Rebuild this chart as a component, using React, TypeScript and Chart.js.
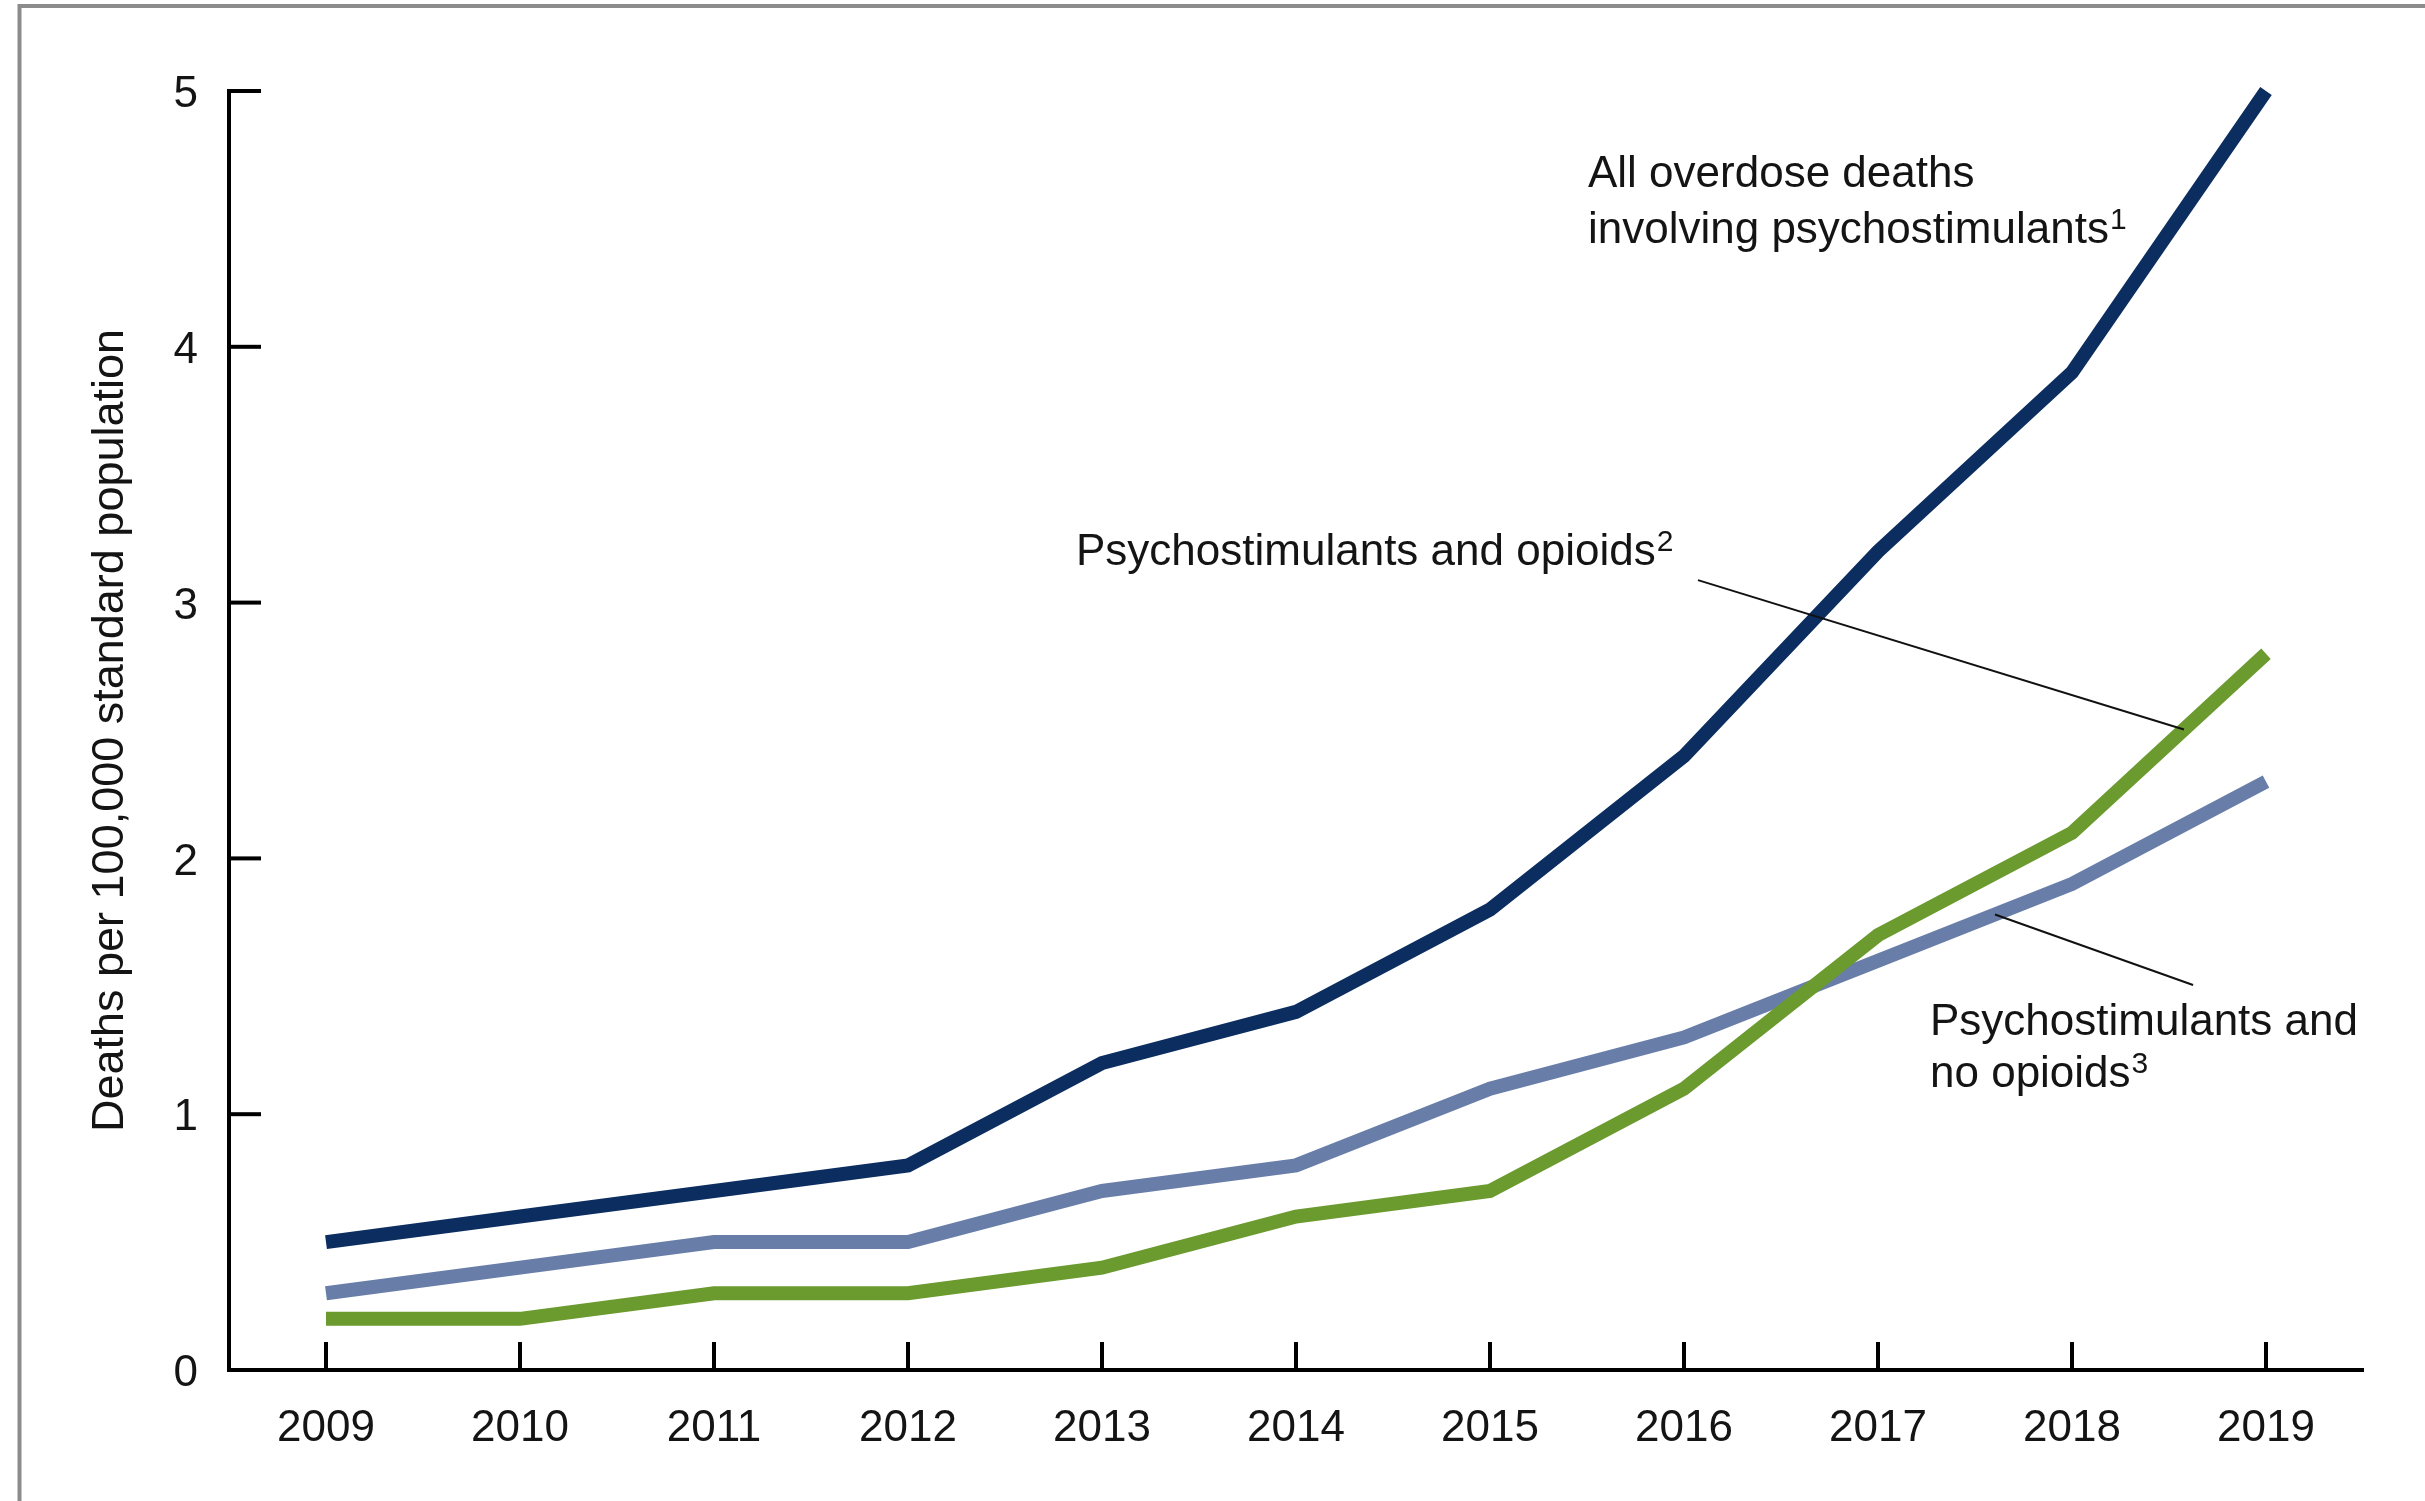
import React, { useEffect, useRef } from 'react';
import { Chart, registerables } from 'chart.js';

Chart.register(...registerables);

// ---- Data ----
const years = ['2009', '2010', '2011', '2012', '2013', '2014', '2015', '2016', '2017', '2018', '2019'];
const allPsychostimulants = [0.5, 0.6, 0.7, 0.8, 1.2, 1.4, 1.8, 2.4, 3.2, 3.9, 5.0];
const psychostimulantsAndOpioids = [0.2, 0.2, 0.3, 0.3, 0.4, 0.6, 0.7, 1.1, 1.7, 2.1, 2.8];
const psychostimulantsNoOpioids = [0.3, 0.4, 0.5, 0.5, 0.7, 0.8, 1.1, 1.3, 1.6, 1.9, 2.3];
const yTickValues = [0, 1, 2, 3, 4, 5];
const yAxisTitle = 'Deaths per 100,000 standard population';
const labelAll = ['All overdose deaths', 'involving psychostimulants'];
const labelOpioids = ['Psychostimulants and opioids'];
const labelNoOpioids = ['Psychostimulants and', 'no opioids'];

// ---- Styles ----
const FONT_FAMILY = '"Liberation Sans", Arial, Helvetica, sans-serif';
const FONT_SIZE = 44;
const TEXT_COLOR = '#141414';
const NAVY = '#0b2d5f';
const GREEN = '#6b9a2e';
const SLATE = '#687ea9';

function interp(series: number[], idx: number): number {
  const i = Math.max(0, Math.min(series.length - 2, Math.floor(idx)));
  const f = idx - i;
  return series[i] + (series[i + 1] - series[i]) * f;
}

function drawLabel(ctx: CanvasRenderingContext2D, lines: string[], sup: string, x: number, y: number, lineGap: number) {
  ctx.save();
  ctx.fillStyle = TEXT_COLOR;
  ctx.textAlign = 'left';
  ctx.textBaseline = 'alphabetic';
  lines.forEach((line, i) => {
    const by = y + i * lineGap;
    ctx.font = `${FONT_SIZE}px ${FONT_FAMILY}`;
    ctx.fillText(line, x, by);
    if (i === lines.length - 1) {
      const w = ctx.measureText(line).width;
      ctx.font = `30px ${FONT_FAMILY}`;
      ctx.fillText(sup, x + w + 1, by - 14);
    }
  });
  ctx.restore();
}

const decorPlugin = {
  id: 'decor',
  beforeDraw(chart: any) {
    const ctx = chart.ctx as CanvasRenderingContext2D;
    ctx.save();
    ctx.fillStyle = '#ffffff';
    ctx.fillRect(0, 0, chart.width, chart.height);
    ctx.strokeStyle = '#8c8c8c';
    ctx.lineWidth = 4;
    ctx.beginPath();
    ctx.moveTo(19.5, chart.height);
    ctx.lineTo(19.5, 6);
    ctx.lineTo(chart.width, 6);
    ctx.stroke();
    ctx.restore();
  },
  beforeDatasetsDraw(chart: any) {
    const ctx = chart.ctx as CanvasRenderingContext2D;
    const xs = chart.scales.x;
    const ys = chart.scales.y;
    const area = chart.chartArea;
    ctx.save();
    ctx.strokeStyle = '#000';
    ctx.lineWidth = 4;
    ctx.lineCap = 'butt';
    // inner ticks on the y axis
    yTickValues.forEach((v) => {
      const py = ys.getPixelForValue(v);
      ctx.beginPath();
      ctx.moveTo(area.left, py);
      ctx.lineTo(area.left + 32, py);
      ctx.stroke();
    });
    // inner ticks on the x axis
    years.forEach((_, i) => {
      const px = xs.getPixelForValue(i);
      ctx.beginPath();
      ctx.moveTo(px, area.bottom);
      ctx.lineTo(px, area.bottom - 28);
      ctx.stroke();
    });
    ctx.restore();
  },
  afterDatasetsDraw(chart: any) {
    const ctx = chart.ctx as CanvasRenderingContext2D;
    const xs = chart.scales.x;
    const ys = chart.scales.y;
    const X = (i: number) => xs.getPixelForValue(i);
    const Y = (v: number) => ys.getPixelForValue(v);

    // leader lines
    ctx.save();
    ctx.strokeStyle = '#111';
    ctx.lineWidth = 2;
    const g = 9.577;
    ctx.beginPath();
    ctx.moveTo(X(7.072), Y(3.088));
    ctx.lineTo(X(g), Y(interp(psychostimulantsAndOpioids, g)));
    ctx.stroke();
    const s = 8.603;
    ctx.beginPath();
    ctx.moveTo(X(s), Y(interp(psychostimulantsNoOpioids, s)));
    ctx.lineTo(X(9.624), Y(1.505));
    ctx.stroke();
    ctx.restore();

    // labels
    drawLabel(ctx, labelAll, '1', X(6.505), Y(4.625), 56);
    drawLabel(ctx, labelOpioids, '2', X(3.866), Y(3.147), 56);
    drawLabel(ctx, labelNoOpioids, '3', X(8.268), Y(1.31), 52);
  },
};

export default function App() {
  const canvasRef = useRef<HTMLCanvasElement | null>(null);

  useEffect(() => {
    const canvas = canvasRef.current;
    if (!canvas) return;
    const tickFont = { family: FONT_FAMILY, size: FONT_SIZE };
    const chart = new Chart(canvas, {
      type: 'line',
      data: {
        labels: years,
        datasets: [
          {
            label: 'All overdose deaths involving psychostimulants',
            data: allPsychostimulants,
            borderColor: NAVY,
            backgroundColor: NAVY,
          },
          {
            label: 'Psychostimulants and opioids',
            data: psychostimulantsAndOpioids,
            borderColor: GREEN,
            backgroundColor: GREEN,
          },
          {
            label: 'Psychostimulants and no opioids',
            data: psychostimulantsNoOpioids,
            borderColor: SLATE,
            backgroundColor: SLATE,
          },
        ],
      },
      options: {
        responsive: false,
        animation: false,
        devicePixelRatio: 1,
        layout: { padding: { left: 0, top: 91, right: 62, bottom: 0 } },
        plugins: {
          legend: { display: false },
          tooltip: { enabled: false },
        },
        elements: {
          point: { radius: 0, hoverRadius: 0 },
          line: {
            tension: 0,
            borderWidth: 14,
            borderCapStyle: 'butt',
            borderJoinStyle: 'miter',
            fill: false,
          },
        },
        datasets: { line: { clip: 10 } } as any,
        scales: {
          x: {
            type: 'category',
            offset: true,
            grid: { display: false, drawTicks: false },
            border: { display: true, color: '#000', width: 4 },
            ticks: {
              padding: 32,
              color: TEXT_COLOR,
              font: tickFont,
              maxRotation: 0,
              autoSkip: false,
            },
            afterFit: (scale: any) => {
              scale.height = 131;
            },
          },
          y: {
            min: 0,
            max: 5,
            grid: { display: false, drawTicks: false },
            border: { display: true, color: '#000', width: 4 },
            ticks: {
              stepSize: 1,
              padding: 31,
              labelOffset: 4,
              color: TEXT_COLOR,
              font: tickFont,
            },
            title: {
              display: true,
              text: yAxisTitle,
              color: TEXT_COLOR,
              font: { family: FONT_FAMILY, size: 45 },
              padding: { top: 84, bottom: 0 },
            },
            afterFit: (scale: any) => {
              scale.width = 229;
            },
          },
        },
      } as any,
      plugins: [decorPlugin],
    });
    return () => chart.destroy();
  }, []);

  return (
    <div style={{ position: 'absolute', left: 0, top: 0, width: 2425, height: 1501, overflow: 'hidden', background: '#fff' }}>
      <canvas ref={canvasRef} width={2425} height={1501} style={{ display: 'block', width: 2425, height: 1501 }} />
    </div>
  );
}
